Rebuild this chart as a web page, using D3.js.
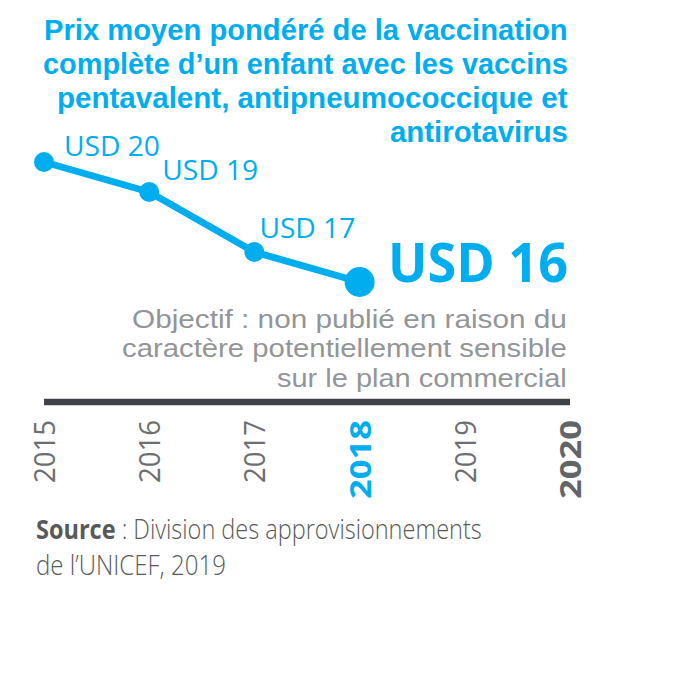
<!DOCTYPE html>
<html><head><meta charset="utf-8">
<script src="https://cdn.jsdelivr.net/npm/d3@7"></script>
<style>body{margin:0;background:#fff}svg{display:block}</style>
</head><body>
<script>
// ---- data ----
const years = [2015, 2016, 2017, 2018, 2019, 2020];
const priceYears = [2015, 2016, 2017, 2018];
const priceValues = [20, 19, 17, 16];
const priceLabels = ["USD 20", "USD 19", "USD 17", "USD 16"];
const titleLines = ["Prix moyen pondéré de la vaccination", "complète d\u2019un enfant avec les vaccins", "pentavalent, antipneumococcique et", "antirotavirus"];
const targetLines = ["Objectif : non publié en raison du", "caractère potentiellement sensible", "sur le plan commercial"];
const sourceBold = "Source";
const sourceLines = [" : Division des approvisionnements", "de l\u2019UNICEF, 2019"];

// ---- layout ----
const W = 700, H = 700;
const BLUE = "#00AEEF", GREY = "#939598", DARK = "#404347", YEARGREY = "#6d6e71", SRC = "#58595b";
const FONT = "'Open Sans', sans-serif";
const FONT2 = "'Liberation Sans', Arial, sans-serif";
const svg = d3.select("body").append("svg").attr("width", W).attr("height", H);

const x = d3.scaleLinear().domain([2015, 2020]).range([44, 570]);
const y = d3.scaleLinear().domain([16, 20]).range([282, 162]);

// fit a text element horizontally between x0 and x1
function fit(sel, x0, x1) {
  const node = sel.node();
  const bb = node.getBBox();
  const k = (x1 - x0) / bb.width;
  sel.attr("transform", `translate(${x0},0) scale(${k},1) translate(${-bb.x},0)`);
}

// multi-line right-aligned block, each line fitted to its width
function block(lines, starts, right, y0, dy, size, weight, color) {
  lines.forEach((line, i) => {
    const s = svg.append("text").attr("x", 0).attr("y", y0 + i * dy)
      .attr("font-family", FONT2).attr("font-size", size)
      .attr("font-weight", weight).attr("fill", color).text(line);
    fit(s, starts[i], right);
  });
}

// title
block(titleLines, [44, 43, 57, 390], 568, 40, 34, 29, 700, BLUE);

// axis line
svg.append("line").attr("x1", x(2015)).attr("x2", x(2020)).attr("y1", 402).attr("y2", 402)
  .attr("stroke", DARK).attr("stroke-width", 6.5);

// year labels
years.forEach(yr => {
  const bold = yr === 2018 || yr === 2020;
  const g = svg.append("g").attr("transform", `translate(${x(yr) + 11},420) rotate(-90)`);
  const t = g.append("text").attr("x", 0).attr("y", 0).attr("text-anchor", "end")
    .attr("font-family", FONT).attr("font-weight", bold ? 700 : 400).attr("font-size", 29)
    .attr("fill", yr === 2018 ? BLUE : (yr === 2020 ? "#636466" : YEARGREY)).text(yr);
  const bb = t.node().getBBox();
  const target = bold ? 79 : 63;
  const k = target / bb.width;
  t.attr("transform", `scale(${k},1)`);
});

// line
const pts = priceYears.map((yr, i) => [x(yr), y(priceValues[i])]);
svg.append("path").datum(pts).attr("d", d3.line())
  .attr("fill", "none").attr("stroke", BLUE).attr("stroke-width", 7).attr("stroke-linejoin", "round");
svg.selectAll("circle.pt").data(priceYears).join("circle").attr("class", "pt")
  .attr("cx", d => x(d)).attr("cy", (d, i) => y(priceValues[i]))
  .attr("r", (d, i) => i === priceYears.length - 1 ? 15 : 10).attr("fill", BLUE);

// value labels
const labelOff = [[20, -5.5], [13, -11.5], [5, -14]];
priceLabels.slice(0, 3).forEach((t, i) => {
  const px = x(priceYears[i]) + labelOff[i][0];
  const s = svg.append("text").attr("x", 0).attr("y", y(priceValues[i]) + labelOff[i][1])
    .attr("font-family", FONT).attr("font-size", 27).attr("fill", BLUE).text(t);
  fit(s, px, px + 96);
});
{
  const s = svg.append("text").attr("x", 0).attr("y", 282)
    .attr("font-family", FONT).attr("font-weight", 700).attr("font-size", 53).attr("fill", BLUE)
    .text(priceLabels[3]);
  fit(s, 388, 568);
}

// target text
block(targetLines, [132, 122, 277], 567, 328, 29.5, 25, 400, GREY);

// source
{
  const s = svg.append("text").attr("x", 0).attr("y", 539)
    .attr("font-family", FONT).attr("font-size", 27).attr("fill", SRC);
  s.append("tspan").attr("font-weight", 700).text(sourceBold);
  s.append("tspan").attr("font-weight", 300).text(sourceLines[0]);
  fit(s, 36, 482);
  const s2 = svg.append("text").attr("x", 0).attr("y", 575)
    .attr("font-family", FONT).attr("font-size", 27).attr("font-weight", 300).attr("fill", SRC)
    .text(sourceLines[1]);
  fit(s2, 36, 226);
}
</script>
</body></html>
